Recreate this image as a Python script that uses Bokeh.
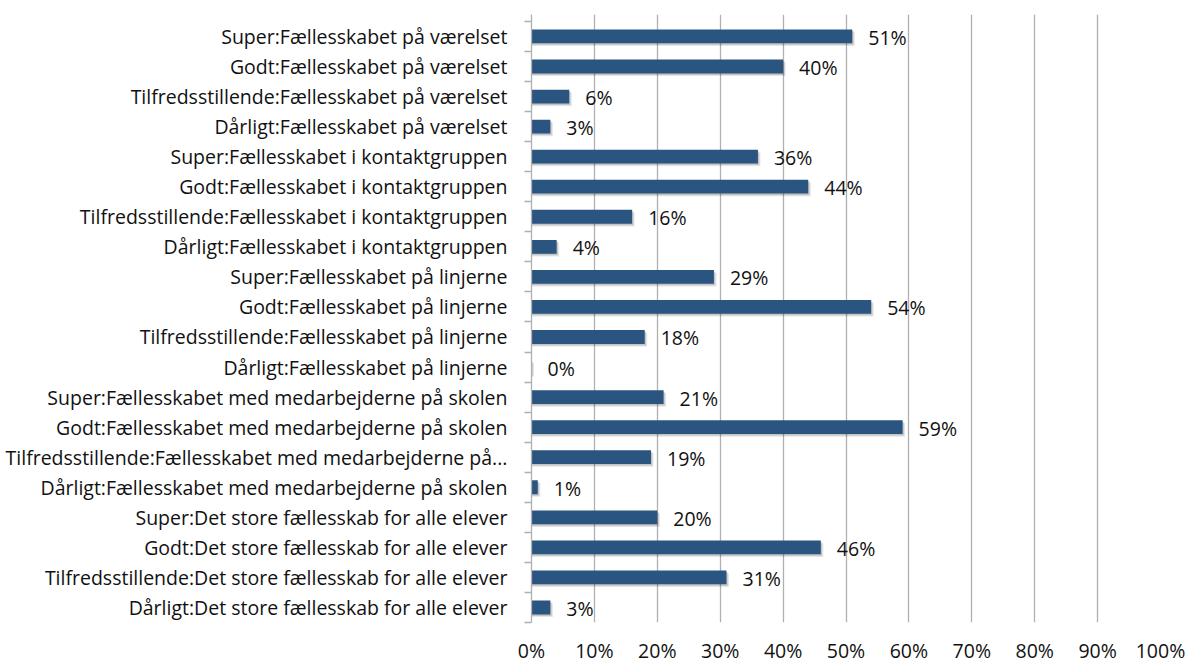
from bokeh.plotting import figure
from bokeh.models import Range1d, FixedTicker, NumeralTickFormatter, ColumnDataSource, LabelSet
from bokeh.core.properties import value
from bokeh.embed import file_html
from bokeh.resources import INLINE
import numpy as np

categories = [
    "Super:Fællesskabet på værelset",
    "Godt:Fællesskabet på værelset",
    "Tilfredsstillende:Fællesskabet på værelset",
    "Dårligt:Fællesskabet på værelset",
    "Super:Fællesskabet i kontaktgruppen",
    "Godt:Fællesskabet i kontaktgruppen",
    "Tilfredsstillende:Fællesskabet i kontaktgruppen",
    "Dårligt:Fællesskabet i kontaktgruppen",
    "Super:Fællesskabet på linjerne",
    "Godt:Fællesskabet på linjerne",
    "Tilfredsstillende:Fællesskabet på linjerne",
    "Dårligt:Fællesskabet på linjerne",
    "Super:Fællesskabet med medarbejderne på skolen",
    "Godt:Fællesskabet med medarbejderne på skolen",
    "Tilfredsstillende:Fællesskabet med medarbejderne på...",
    "Dårligt:Fællesskabet med medarbejderne på skolen",
    "Super:Det store fællesskab for alle elever",
    "Godt:Det store fællesskab for alle elever",
    "Tilfredsstillende:Det store fællesskab for alle elever",
    "Dårligt:Det store fællesskab for alle elever",
]
values = [51, 40, 6, 3, 36, 44, 16, 4, 29, 54, 18, 0, 21, 59, 19, 1, 20, 46, 31, 3]
x_ticks = [0, 10, 20, 30, 40, 50, 60, 70, 80, 90, 100]

FONT = "Open Sans"
FS = "19.5px"
BAR = "#2B5581"
GRID = "#B0B0B0"
TXT = "#111111"

n = len(categories)
pos = np.arange(n)
frac = np.array(values) / 100.0
src = ColumnDataSource(dict(
    y=pos, v=frac, lab=[f"{v}%" for v in values],
    ys1=pos + 0.05, ys2=pos + 0.09,
    vs1=frac + 0.002, vs2=frac + 0.004,
))

p = figure(width=1188, height=666, output_backend="svg", toolbar_location=None,
           x_range=Range1d(0, 1), y_range=Range1d(n - 0.5, -0.73),
           min_border_left=531, min_border_right=28, min_border_top=14, min_border_bottom=42)
p.outline_line_color = None
p.background_fill_color = "white"

# shadows
p.hbar(y="ys2", left=0, right="vs2", height=0.46, source=src, fill_color="black", fill_alpha=0.10, line_color=None)
p.hbar(y="ys1", left=0, right="vs1", height=0.46, source=src, fill_color="black", fill_alpha=0.14, line_color=None)
p.hbar(y="y", left=0, right="v", height=0.46, source=src, fill_color=BAR, line_color=None)

labels = LabelSet(x="v", y="y", text="lab", source=src, x_offset=16, y_offset=-1,
                  text_font=value(FONT), text_font_size=FS, text_baseline="middle", text_color=TXT)
p.add_layout(labels)

# x axis
p.xaxis.ticker = FixedTicker(ticks=[t / 100 for t in x_ticks])
p.xaxis.formatter = NumeralTickFormatter(format="0%")
p.xaxis.axis_line_color = None
p.xaxis.major_tick_line_color = None
p.xaxis.minor_tick_line_color = None
p.xaxis.major_tick_out = 0
p.xaxis.major_tick_in = 0
p.xaxis.major_label_standoff = 14
p.xaxis.major_label_text_font = FONT
p.xaxis.major_label_text_font_size = FS
p.xaxis.major_label_text_color = TXT

p.xgrid.ticker = FixedTicker(ticks=[t / 100 for t in x_ticks])
p.xgrid.grid_line_color = GRID
p.xgrid.grid_line_width = 1.3
p.ygrid.grid_line_color = None

# y axis
p.yaxis.ticker = FixedTicker(ticks=list(pos), minor_ticks=list(np.arange(n + 1) - 0.5))
p.yaxis.major_label_overrides = {int(i): c for i, c in zip(pos, categories)}
p.yaxis.axis_line_color = GRID
p.yaxis.axis_line_width = 1.3
p.yaxis.major_tick_line_color = None
p.yaxis.major_tick_out = 0
p.yaxis.major_tick_in = 0
p.yaxis.minor_tick_line_color = GRID
p.yaxis.minor_tick_line_width = 1.3
p.yaxis.minor_tick_out = 7
p.yaxis.minor_tick_in = 0
p.yaxis.major_label_standoff = 17
p.yaxis.major_label_text_font = FONT
p.yaxis.major_label_text_font_size = FS
p.yaxis.major_label_text_color = TXT

open("out.html", "w").write(file_html(p, INLINE))
